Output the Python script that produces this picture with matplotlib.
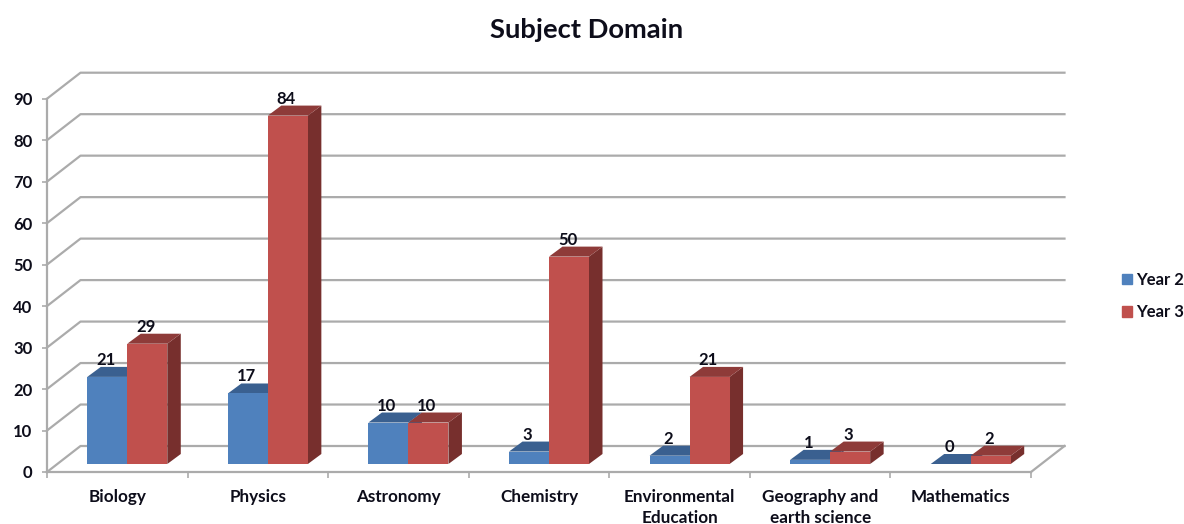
import numpy as np
import matplotlib
matplotlib.use("Agg")
import matplotlib.pyplot as plt

categories = ["Biology", "Physics", "Astronomy", "Chemistry",
              "Environmental\nEducation", "Geography and\nearth science", "Mathematics"]
year2 = [21, 17, 10, 3, 2, 1, 0]
year3 = [29, 84, 10, 50, 21, 3, 2]
yticks = list(range(0, 100, 10))

plt.rcParams['font.family'] = ['Lato', 'DejaVu Sans']
plt.rcParams['font.weight'] = 'bold'

W, H = 1184, 524
fig = plt.figure(figsize=(W / 100, H / 100), dpi=100)
# plot box in pixels, the front plane of the fake 3d chart
left, right, top, bottom = 47, 1031, 98.7, 472
ax = fig.add_axes([left / W, 1 - bottom / H, (right - left) / W, (bottom - top) / H])
ax.set_xlim(-0.5, 6.5)
ax.set_ylim(0, 90)

px_x = 7 / (right - left)  # data units per pixel
px_y = 90 / (bottom - top)
grey = "#ABABAB"
ink = "#0D0D1A"

# back wall and floor
wall_dx, wall_dy = 33.5 * px_x, 26 * px_y
for v in yticks:
    ax.plot([-0.5, -0.5 + wall_dx, 6.5 + wall_dx],
            [v, v + wall_dy, v + wall_dy], color=grey, lw=1.6, clip_on=False, zorder=1)
ax.plot([6.5, 6.5 + wall_dx], [0, wall_dy], color=grey, lw=1.6, clip_on=False, zorder=1)


def draw_bar(x, v, w, front, topc, sidec, label):
    depth_x, depth_y = 13.5 * px_x, 10 * px_y
    base = 8 * px_y
    x0, x1 = x - w / 2, x + w / 2
    y0, y1 = base, base + v
    ax.fill([x1, x1 + depth_x, x1 + depth_x, x1],
            [y0, y0 + depth_y, y1 + depth_y, y1], color=sidec, lw=0, clip_on=False, zorder=3)
    ax.fill([x0, x0 + depth_x, x1 + depth_x, x1],
            [y1, y1 + depth_y, y1 + depth_y, y1], color=topc, lw=0, clip_on=False, zorder=3)
    ax.bar(x, v, w, bottom=base, color=front, clip_on=False, zorder=3, linewidth=0)
    ax.annotate(str(v), (x, y1), xytext=(-1.5, 17), textcoords='offset pixels',
                ha='center', va='center', fontsize=12, color=ink,
                annotation_clip=False, zorder=6)
    return ax.fill([], [], color=front, label=label)[0]


pos = np.arange(len(categories))
bar_w = 40 * px_x
shift = 10 * px_x
for i in range(len(categories)):
    # one category at a time so each red bar paints over its blue neighbour
    h2 = draw_bar(pos[i] + shift - bar_w / 2, year2[i], bar_w, "#4F81BD", "#3A6090", "#3A6090", "Year 2")
    h3 = draw_bar(pos[i] + shift + bar_w / 2, year3[i], bar_w, "#C0504D", "#8E3B39", "#772F2D", "Year 3")

for s in ['top', 'right']:
    ax.spines[s].set_visible(False)
for s in ['left', 'bottom']:
    ax.spines[s].set_color(grey)
    ax.spines[s].set_linewidth(1.6)
    ax.spines[s].set_zorder(2)

ax.set_yticks(yticks)
ax.tick_params(axis='y', color=grey, length=3.5, width=1.2, labelsize=12, pad=7, labelcolor=ink)
ax.set_xticks(pos)
ax.set_xticklabels(categories, fontsize=12.3, color=ink, linespacing=1.4)
ax.tick_params(axis='x', which='major', length=0, pad=12)
ax.set_xticks(np.arange(-0.5, 7, 1), minor=True)
ax.tick_params(axis='x', which='minor', color=grey, length=4.5, width=1.2)

fig.text(587 / W, 1 - 30 / H, "Subject Domain", ha='center', va='center', fontsize=19.7, color=ink)

fig.legend(handles=[h2, h3], loc='upper left', bbox_to_anchor=(1115.3 / W, 1 - 265 / H), frameon=False,
           fontsize=12, handlelength=0.6, handleheight=0.6, handletextpad=0.25, labelspacing=1.0,
           labelcolor=ink, borderaxespad=0, borderpad=0.4)

fig.savefig("out.png", dpi=100)
